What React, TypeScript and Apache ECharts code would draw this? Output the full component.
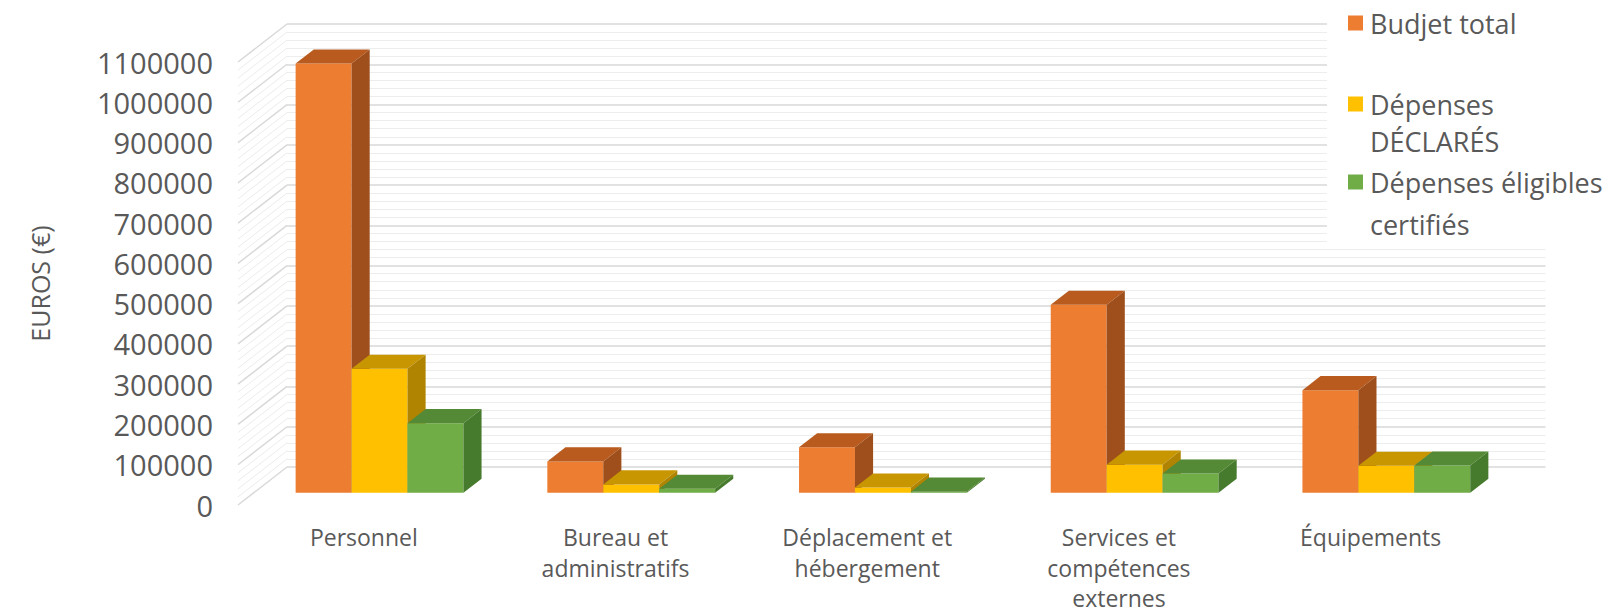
import React, { useEffect, useRef } from "react";
import * as echarts from "echarts";

const categories = [
  "Personnel",
  "Bureau et\nadministratifs",
  "Déplacement et\nhébergement",
  "Services et\ncompétences\nexternes",
  "Équipements",
];
const seriesNames = ["Budjet total", "Dépenses DÉCLARÉS", "Dépenses éligibles certifiés"];
const budjetTotal = [1066000, 78000, 113000, 467000, 255000];
const depensesDeclares = [308000, 21000, 13000, 70000, 67000];
const depensesEligibles = [173000, 10000, 3000, 48000, 68000];
const yTicks = { min: 0, max: 1100000, interval: 100000, minorSplit: 5 };

const FONT = "'Open Sans', 'Noto Sans', sans-serif";
const TXT = "#595959";
const DX = 49;
const DY = -38;
const FRONT_DEPTH = 0.32;
const BAR_DEPTH = 0.37;

const palettes = [
  { front: "#ED7D31", top: "#B95B1E", side: "#9E4F1C" },
  { front: "#FFC000", top: "#C89600", side: "#B08400" },
  { front: "#70AD47", top: "#548A35", side: "#467A2C" },
];

export default function App() {
  const ref = useRef<HTMLDivElement>(null);
  useEffect(() => {
    if (!ref.current) return;
    const chart = echarts.init(ref.current, undefined, { renderer: "svg" });
    const allSeries = [budjetTotal, depensesDeclares, depensesEligibles];

    const gridVals: number[] = [];
    const step = yTicks.interval / yTicks.minorSplit;
    for (let v = yTicks.min; v <= yTicks.max + 1; v += step) gridVals.push(v);

    const barSeries = allSeries.map((vals, s) => ({
      type: "custom",
      name: seriesNames[s],
      xAxisIndex: 0,
      yAxisIndex: 0,
      z: 5,
      data: vals.map((v, i) => [i, v]),
      encode: { x: 0, y: 1 },
      renderItem: (params: any, api: any) => {
        const i = api.value(0);
        const v = api.value(1);
        const [cx, yTop] = api.coord([i, v]);
        const yBase = api.coord([i, 0])[1];
        const band = api.size([1, 0])[0];
        const bw = band / 4.5;
        const fdx = FRONT_DEPTH * DX;
        const fdy = FRONT_DEPTH * DY;
        const bdx = BAR_DEPTH * DX;
        const bdy = BAR_DEPTH * DY;
        const xl = cx + fdx - 1.5 * bw + s * bw;
        const xr = xl + bw;
        const yt = yTop + fdy;
        const yb = yBase + fdy;
        const p = palettes[s];
        return {
          type: "group",
          children: [
            { type: "polygon", shape: { points: [[xl, yb], [xr, yb], [xr, yt], [xl, yt]] }, style: { fill: p.front } },
            { type: "polygon", shape: { points: [[xl, yt], [xr, yt], [xr + bdx, yt + bdy], [xl + bdx, yt + bdy]] }, style: { fill: p.top } },
            { type: "polygon", shape: { points: [[xr, yt], [xr + bdx, yt + bdy], [xr + bdx, yb + bdy], [xr, yb]] }, style: { fill: p.side } },
          ],
        };
      },
    }));

    const sideWall = {
      type: "custom",
      xAxisIndex: 0,
      yAxisIndex: 0,
      z: 1,
      silent: true,
      data: gridVals.map((v) => [0, v]),
      encode: { x: 0, y: 1 },
      renderItem: (params: any, api: any) => {
        const v = api.value(1);
        const y = api.coord([0, v])[1];
        const x0 = params.coordSys.x;
        const major = Math.round(v) % yTicks.interval === 0;
        return {
          type: "line",
          shape: { x1: x0, y1: y, x2: x0 + DX, y2: y + DY },
          style: { stroke: major ? "#d9d9d9" : "#ececec", lineWidth: major ? 1.5 : 1 },
        };
      },
    };

    const W = 1613;
    const gridLeft = 238;
    const gridTop = 62;
    const gridH = 443;
    const gridW = 1258.5;

    const legendRows = [
      { color: palettes[0].front, lines: [["Budjet total", 23]] },
      { color: palettes[1].front, lines: [["Dépenses", 104], ["DÉCLARÉS", 141]] },
      { color: palettes[2].front, lines: [["Dépenses éligibles", 182], ["certifiés", 224]] },
    ];
    const legendGraphics: any[] = [
      { type: "rect", z: 100, shape: { x: 1327, y: 0, width: W - 1327, height: 245 }, style: { fill: "#ffffff" } },
    ];
    legendRows.forEach((r) => {
      const y0 = r.lines[0][1] as number;
      legendGraphics.push({
        type: "rect",
        z: 101,
        shape: { x: 1348, y: y0 - 7.5, width: 15, height: 15 },
        style: { fill: r.color },
      });
      r.lines.forEach(([t, y]) => {
        legendGraphics.push({
          type: "text",
          z: 101,
          x: 1370,
          y: y as number,
          style: {
            text: t as string,
            font: `27px ${FONT}`,
            fill: TXT,
            textVerticalAlign: "middle",
          },
        });
      });
    });

    chart.setOption({
      animation: false,
      backgroundColor: "#ffffff",
      grid: [
        { left: gridLeft, top: gridTop, width: gridW, height: gridH, outerBoundsMode: "none", containLabel: false },
        { left: gridLeft + DX, top: gridTop + DY, width: gridW, height: gridH, outerBoundsMode: "none", containLabel: false },
      ],
      xAxis: [
        {
          type: "category",
          gridIndex: 0,
          data: categories,
          axisLine: { show: false },
          axisTick: { show: false },
          axisLabel: {
            interval: 0,
            margin: 17,
            color: TXT,
            fontFamily: FONT,
            fontSize: 23,
            lineHeight: 30.5,
          },
        },
        {
          type: "category",
          gridIndex: 1,
          data: categories,
          show: false,
        },
      ],
      yAxis: [
        {
          type: "value",
          gridIndex: 0,
          min: yTicks.min,
          max: yTicks.max,
          interval: yTicks.interval,
          name: "EUROS (€)",
          nameLocation: "middle",
          nameRotate: 90,
          nameGap: 186,
          nameTextStyle: { color: TXT, fontFamily: FONT, fontSize: 25 },
          axisLine: { show: false },
          axisTick: { show: false },
          splitLine: { show: false },
          axisLabel: {
            color: TXT,
            fontFamily: FONT,
            fontSize: 29,
            margin: 25,
            formatter: (v: number) => String(v),
          },
        },
        {
          type: "value",
          gridIndex: 1,
          min: yTicks.min,
          max: yTicks.max,
          interval: yTicks.interval,
          axisLine: { show: false },
          axisTick: { show: false },
          axisLabel: { show: false },
          minorTick: { show: false, splitNumber: yTicks.minorSplit },
          splitLine: { show: true, lineStyle: { color: "#d9d9d9", width: 1.5 } },
          minorSplitLine: { show: true, lineStyle: { color: "#ededed", width: 1 } },
        },
      ],
      graphic: legendGraphics,
      series: [sideWall, ...barSeries],
    });
    return () => chart.dispose();
  }, []);
  return (
    <div
      ref={ref}
      style={{ position: "fixed", left: 0, top: 0, width: 1613, height: 614, background: "#fff" }}
    />
  );
}
